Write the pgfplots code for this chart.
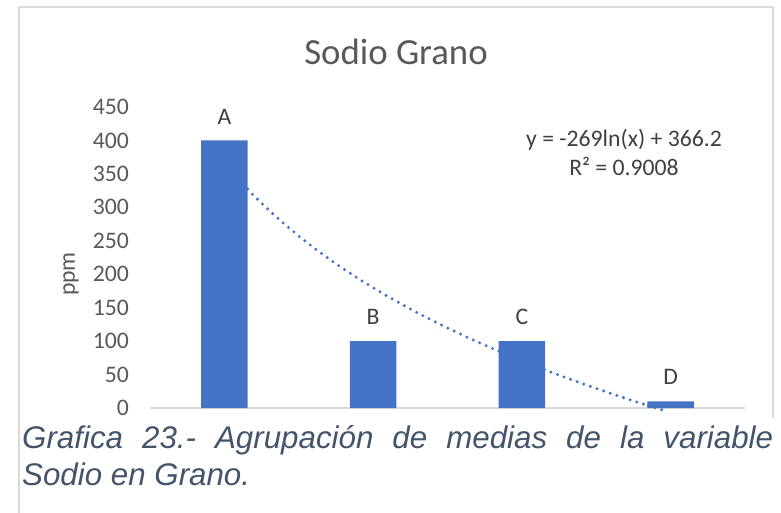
\documentclass[border=0pt]{standalone}
\usepackage{fontspec}
\setmainfont{Carlito}
\newfontfamily\capfont{Liberation Sans}
\usepackage{pgfplots}
\pgfplotsset{compat=1.18}
\definecolor{barblue}{HTML}{4472C4}
\definecolor{txtgray}{HTML}{595959}
\definecolor{txtdark}{HTML}{404040}
\definecolor{gridgray}{HTML}{D9D9D9}
\definecolor{capcol}{HTML}{44546A}
\begin{document}
\begin{tikzpicture}
\useasboundingbox (0,0) rectangle (781bp,-513bp);
\fill[white] (0,0) rectangle (781bp,-513bp);
\draw[gridgray, line width=1.3bp] (19bp,-513bp) -- (19bp,-7bp) -- (773bp,-7bp) -- (773bp,-418bp);
\begin{axis}[
  at={(150bp,-408bp)}, anchor=south west,
  scale only axis, width=595bp, height=301bp,
  xmin=0.5, xmax=4.5, ymin=0, ymax=450,
  clip=false,
  axis x line*=bottom, axis y line*=left,
  x axis line style={draw=gridgray, line width=1.3bp},
  y axis line style={draw=none},
  xtick=\empty,
  ytick={0,50,...,450},
  major tick length=0pt,
  ytick style={draw=none},
  yticklabel style={font=\fontsize{23.7bp}{26bp}\selectfont, text=txtgray, anchor=east, inner sep=0pt, xshift=-21bp},
  /pgf/number format/assume math mode=true,
]
% logarithmic trend line (behind the bars)
\addplot[barblue, line width=3.3bp, line cap=round, dash pattern=on 0bp off 7bp, mark=none] coordinates {
(1.0,366.20) (1.1,340.56) (1.2,317.16) (1.3,295.62) (1.4,275.69) (1.5,257.13)
(1.6,239.77) (1.7,223.46) (1.8,208.08) (1.9,193.54) (2.0,179.74) (2.1,166.62)
(2.2,154.10) (2.3,142.15) (2.4,130.70) (2.5,119.72) (2.6,109.17) (2.7,99.02)
(2.8,89.23) (2.9,79.79) (3.0,70.67) (3.1,61.85) (3.2,53.31) (3.3,45.04)
(3.4,37.00) (3.5,29.20) (3.6,21.63) (3.7,14.26) (3.8,7.08) (3.85,3.57)
};
% bars
\addplot[ybar, bar width=46.5bp, fill=barblue, draw=none,
  nodes near coords, point meta=explicit symbolic,
  every node near coord/.append style={anchor=center, yshift=24bp, text=txtdark, font=\fontsize{23.7bp}{26bp}\selectfont}]
  table[meta=lab] {
x y lab
1 400 A
2 100 B
3 100 C
4 10 D
};
% trend line part drawn over bar D
\addplot[barblue, line width=3.3bp, line cap=round, dash pattern=on 0bp off 7bp, mark=none] coordinates {
(3.85,3.57) (3.9,0.10) (3.966,-4.42)
};
\end{axis}
\node[anchor=base, inner sep=0pt, text=txtgray, font=\fontsize{36.8bp}{40bp}\selectfont] at (396bp,-64.5bp) {Sodio Grano};
\node[anchor=center, rotate=90, inner sep=0pt, text=txtgray, font=\fontsize{23.7bp}{26bp}\selectfont] at (71bp,-274bp) {ppm};
\node[anchor=base, inner sep=0pt, text=txtdark, font=\fontsize{23.7bp}{26bp}\selectfont] at (624bp,-146bp) {y = -269ln(x) + 366.2};
\node[anchor=base, inner sep=0pt, text=txtdark, font=\fontsize{23.7bp}{26bp}\selectfont] at (624bp,-175bp) {R² = 0.9008};
\node[anchor=base west, inner sep=0pt, text=capcol, font=\capfont\itshape\fontsize{31.3bp}{37bp}\selectfont] at (22bp,-448bp) {\makebox[751bp][s]{Grafica 23.- Agrupación de medias de la variable}};
\node[anchor=base west, inner sep=0pt, text=capcol, font=\capfont\itshape\fontsize{31.3bp}{37bp}\selectfont] at (22bp,-485bp) {Sodio en Grano.};
\end{tikzpicture}
\end{document}
